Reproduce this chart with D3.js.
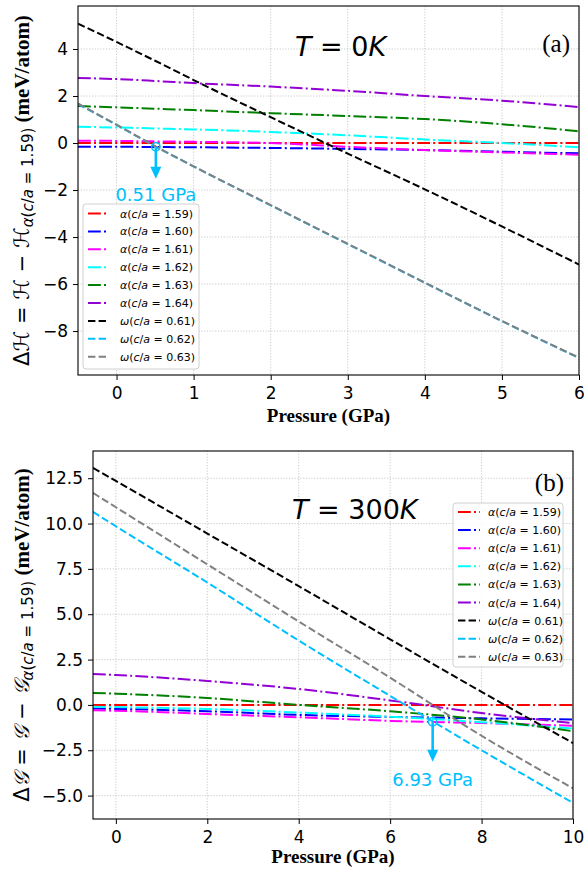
<!DOCTYPE html>
<html><head><meta charset="utf-8">
<script src="https://cdn.jsdelivr.net/npm/d3@7"></script>
<style>body{margin:0;background:#fff} svg{display:block}</style>
</head><body>
<svg id="c" width="584" height="876"></svg>
<script>
// ---------- data ----------
const phases = ["α","α","α","α","α","α","ω","ω","ω"];
const ratios = ["1.59","1.60","1.61","1.62","1.63","1.64","0.61","0.62","0.63"];
const colors = ["#ff0000","#0000ff","#ff00ff","#00ffff","#008000","#9400d3","#000000","#00bfff","#808080"];

// Panel (a): T = 0 K, enthalpy difference (meV/atom)
const pressureA = [-0.5, 0, 0.5, 1, 2, 3, 4, 5, 6];
const a_a159 = [0, 0, 0, 0, 0, 0, 0, 0, 0];
const a_a160 = [-0.16, -0.16, -0.17, -0.18, -0.21, -0.25, -0.30, -0.37, -0.44];
const a_a161 = [0.10, 0.09, 0.07, 0.05, 0.00, -0.16, -0.30, -0.40, -0.50];
const a_a162 = [0.69, 0.66, 0.62, 0.58, 0.47, 0.33, 0.15, 0.00, -0.18];
const a_a163 = [1.57, 1.52, 1.46, 1.40, 1.27, 1.15, 1.02, 0.80, 0.50];
const a_a164 = [2.77, 2.72, 2.64, 2.55, 2.40, 2.22, 2.00, 1.80, 1.53];
const a_w061 = [5.08, 4.30, 3.50, 2.68, 1.10, -0.45, -1.97, -3.55, -5.17];
const a_w062 = [1.66, 0.77, -0.14, -1.00, -2.65, -4.30, -5.95, -7.58, -9.15];
const a_w063 = [1.68, 0.78, -0.13, -0.99, -2.64, -4.29, -5.94, -7.57, -9.13];
const xTicksA = [0, 1, 2, 3, 4, 5, 6];
const yTicksA = [-8, -6, -4, -2, 0, 2, 4];

// Panel (b): T = 300 K, Gibbs free energy difference (meV/atom)
const pressureB = [-0.5, 0, 2, 4, 6, 8, 10];
const b_a159 = [0, 0, 0, 0, 0, 0, 0];
const b_a160 = [-0.20, -0.22, -0.35, -0.55, -0.66, -0.74, -0.80];
const b_a161 = [-0.30, -0.32, -0.50, -0.68, -0.88, -1.00, -1.15];
const b_a162 = [-0.10, -0.12, -0.22, -0.42, -0.65, -0.95, -1.30];
const b_a163 = [0.66, 0.62, 0.38, 0.00, -0.35, -0.80, -1.45];
const b_a164 = [1.71, 1.65, 1.32, 0.88, 0.25, -0.45, -1.00];
const b_w061 = [13.07, 12.35, 9.45, 6.55, 3.62, 0.72, -2.10];
const b_w062 = [10.64, 9.85, 6.75, 3.55, 0.50, -2.50, -5.40];
const b_w063 = [11.69, 10.90, 7.75, 4.60, 1.50, -1.70, -4.60];
const xTicksB = [0, 2, 4, 6, 8, 10];
const yTicksB = [-5, -2.5, 0, 2.5, 5, 7.5, 10, 12.5];

// transition points
const transA = {p: 0.51, v: -0.16, label: "0.51 GPa"};
const transB = {p: 6.93, v: -0.93, label: "6.93 GPa"};

// ---------- drawing ----------
const svg = d3.select("#c");
const SANS = "DejaVu Sans, sans-serif";
const SERIF = "Liberation Serif, Times New Roman, serif";
const DASHDOT = "12.8,3.2,2,3.2";
const DASHED = "7.4,3.2";

function addLegendLabel(t, i) {
  t.append("tspan").attr("font-style", "italic").text(phases[i]);
  t.append("tspan").text("(");
  t.append("tspan").attr("font-style", "italic").text("c");
  t.append("tspan").text("/");
  t.append("tspan").attr("font-style", "italic").text("a");
  t.append("tspan").text(" = " + ratios[i] + ")");
}

function panel(cfg) {
  const g = svg.append("g");
  const x = d3.scaleLinear().domain(cfg.xd).range([cfg.l, cfg.r]);
  const y = d3.scaleLinear().domain(cfg.yd).range([cfg.b, cfg.t]);
  const clipId = "clip" + cfg.id;
  g.append("clipPath").attr("id", clipId).append("rect")
    .attr("x", cfg.l).attr("y", cfg.t).attr("width", cfg.r - cfg.l).attr("height", cfg.b - cfg.t);

  // grid
  const grid = g.append("g").attr("stroke", "#c4c4c4").attr("stroke-width", 0.9).attr("stroke-dasharray", "1.2,1.6");
  grid.selectAll(".gx").data(cfg.xt).join("line")
    .attr("x1", d => x(d)).attr("x2", d => x(d)).attr("y1", cfg.t).attr("y2", cfg.b);
  grid.selectAll(".gy").data(cfg.yt).join("line")
    .attr("x1", cfg.l).attr("x2", cfg.r).attr("y1", d => y(d)).attr("y2", d => y(d));

  // lines
  const line = d3.line().x(d => x(d[0])).y(d => y(d[1])).curve(d3.curveMonotoneX);
  const lg = g.append("g").attr("clip-path", `url(#${clipId})`);
  cfg.series.forEach((vals, i) => {
    lg.append("path").datum(cfg.P.map((p, j) => [p, vals[j]]))
      .attr("d", line).attr("fill", "none").attr("stroke", colors[i])
      .attr("stroke-width", 2).attr("stroke-dasharray", i < 6 ? DASHDOT : DASHED);
  });

  // transition annotation
  const tr = cfg.trans;
  const cx = x(tr.p), cy = y(tr.v);
  const tipY = cy + cfg.arrowLen;
  const ann = g.append("g").attr("stroke", "#00bfff").attr("fill", "#00bfff");
  ann.append("circle").attr("cx", cx).attr("cy", cy).attr("r", 4.2).attr("fill", "none").attr("stroke-width", 1.5);
  ann.append("line").attr("x1", cx).attr("x2", cx).attr("y1", cy).attr("y2", tipY - 8).attr("stroke-width", 2.6);
  ann.append("path").attr("stroke", "none")
    .attr("d", `M${cx - 5.5},${tipY - 12}L${cx + 5.5},${tipY - 12}L${cx},${tipY}Z`);
  g.append("text").attr("x", cx).attr("y", tipY + cfg.textGap).attr("text-anchor", "middle")
    .attr("font-family", SANS).attr("font-size", 18).attr("fill", "#00bfff").text(tr.label);

  // axes
  const ax = g.append("g").attr("transform", `translate(0,${cfg.b})`)
    .call(d3.axisBottom(x).tickValues(cfg.xt).tickSize(5).tickPadding(7).tickFormat(d3.format("d")));
  const ay = g.append("g").attr("transform", `translate(${cfg.l},0)`)
    .call(d3.axisLeft(y).tickValues(cfg.yt).tickSize(5).tickPadding(5).tickFormat(cfg.yfmt));
  [ax, ay].forEach(a => {
    a.select(".domain").remove();
    a.selectAll("text").attr("font-family", SANS).attr("font-size", 17).attr("fill", "#000");
    a.selectAll("line").attr("stroke", "#000").attr("stroke-width", 1);
  });
  g.append("rect").attr("x", cfg.l).attr("y", cfg.t).attr("width", cfg.r - cfg.l).attr("height", cfg.b - cfg.t)
    .attr("fill", "none").attr("stroke", "#000").attr("stroke-width", 1.1);

  // temperature text
  const tt = g.append("text").attr("x", cfg.tx).attr("y", cfg.ty).attr("font-family", SANS).attr("font-size", 27);
  tt.append("tspan").attr("font-style", "italic").text("T");
  tt.append("tspan").text(" = " + cfg.temp);
  tt.append("tspan").attr("font-style", "italic").text("K");

  // panel letter
  g.append("text").attr("x", cfg.r - 9).attr("y", cfg.t + cfg.letterDy).attr("text-anchor", "end")
    .attr("font-family", SERIF).attr("font-size", 25).text(cfg.letter);

  // x label
  g.append("text").attr("x", (cfg.l + cfg.r) / 2).attr("y", cfg.b + cfg.xlDy).attr("text-anchor", "middle")
    .attr("font-family", SERIF).attr("font-weight", "bold").attr("font-size", 19).text("Pressure (GPa)");

  // y label
  const yl = g.append("text").attr("transform", `translate(29,${(cfg.t + cfg.b) / 2}) rotate(-90)`)
    .attr("text-anchor", "middle").attr("font-family", SANS).attr("font-size", 21);
  yl.append("tspan").text("Δ");
  yl.append("tspan").attr("font-style", "italic").text(cfg.sym);
  yl.append("tspan").text(" = ");
  yl.append("tspan").attr("font-style", "italic").text(cfg.sym);
  yl.append("tspan").text(" − ");
  yl.append("tspan").attr("font-style", "italic").text(cfg.sym);
  yl.append("tspan").attr("font-size", 15).attr("dy", 4).attr("font-style", "italic").text("α");
  yl.append("tspan").attr("font-size", 15).text("(");
  yl.append("tspan").attr("font-size", 15).attr("font-style", "italic").text("c");
  yl.append("tspan").attr("font-size", 15).text("/");
  yl.append("tspan").attr("font-size", 15).attr("font-style", "italic").text("a");
  yl.append("tspan").attr("font-size", 15).text(" = 1.59)");
  yl.append("tspan").attr("dy", -4).attr("font-family", SERIF).attr("font-weight", "bold").text(" (meV/atom)");

  // legend
  const L = cfg.leg;
  const leg = g.append("g");
  leg.append("rect").attr("x", L.x).attr("y", L.y).attr("width", L.w).attr("height", L.h)
    .attr("rx", 3).attr("fill", "#fff").attr("fill-opacity", 0.85).attr("stroke", "#d0d0d0").attr("stroke-width", 1);
  colors.forEach((c, i) => {
    const ry = L.y0 + i * L.dy;
    leg.append("line").attr("x1", L.lx).attr("x2", L.lx + L.ll).attr("y1", ry).attr("y2", ry)
      .attr("stroke", c).attr("stroke-width", 2).attr("stroke-dasharray", i < 6 ? DASHDOT : DASHED);
    const t = leg.append("text").attr("x", L.tx).attr("y", ry + 4).attr("font-family", SANS).attr("font-size", 11);
    addLegendLabel(t, i);
  });
}

panel({
  id: "A", l: 78, r: 579, t: 6, b: 375, xd: [-0.5, 6], yd: [-9.87, 5.83],
  xt: xTicksA, yt: yTicksA, yfmt: d3.format("d"), P: pressureA,
  series: [a_a159, a_a160, a_a161, a_a162, a_a163, a_a164, a_w061, a_w062, a_w063],
  trans: transA, arrowLen: 32, textGap: 22, xlDy: 47,
  tx: 295, ty: 56, temp: "0", letter: "(a)", letterDy: 46, sym: "ℋ",
  leg: {x: 83, y: 204, w: 116, h: 165, y0: 213.5, dy: 17.9, lx: 88, ll: 18, tx: 120}
});
panel({
  id: "B", l: 93, r: 573, t: 451, b: 819, xd: [-0.5, 10], yd: [-6.29, 14.0],
  xt: xTicksB, yt: yTicksB, yfmt: d3.format(".1f"), P: pressureB,
  series: [b_a159, b_a160, b_a161, b_a162, b_a163, b_a164, b_w061, b_w062, b_w063],
  trans: transB, arrowLen: 40, textGap: 24, xlDy: 44,
  tx: 292, ty: 519, temp: "300", letter: "(b)", letterDy: 40, sym: "𝒢",
  leg: {x: 453, y: 503, w: 110, h: 164, y0: 512, dy: 18.1, lx: 458, ll: 22, tx: 488}
});
</script>
</body></html>
